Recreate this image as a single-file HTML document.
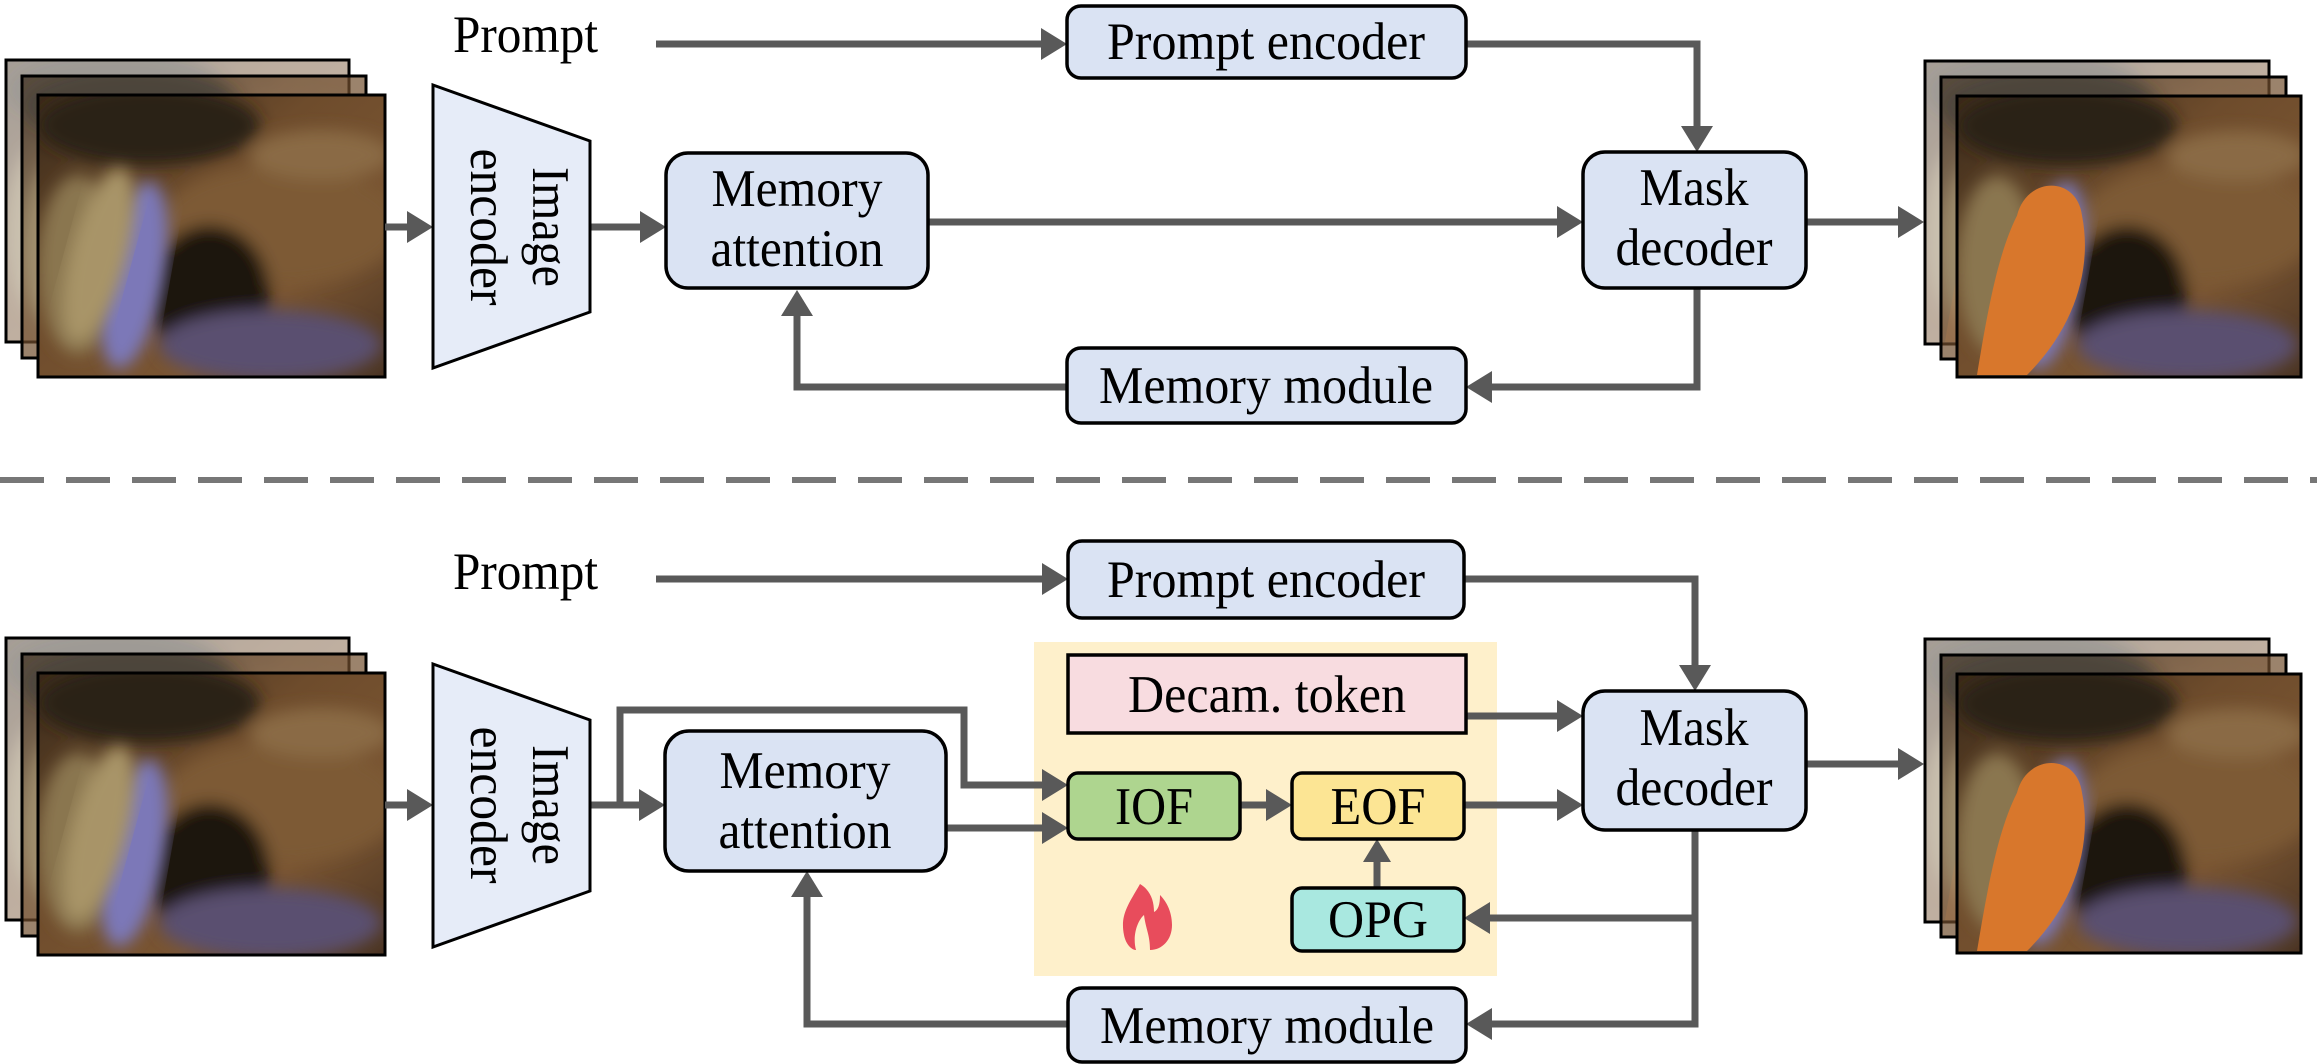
<!DOCTYPE html>
<html><head><meta charset="utf-8"><style>
html,body{margin:0;padding:0;background:#fff;}
svg{display:block;}
text{font-family:"Liberation Serif",serif;font-size:53px;fill:#000;stroke:none;}
</style></head><body>
<svg width="2317" height="1064" viewBox="0 0 2317 1064" xmlns="http://www.w3.org/2000/svg">
<defs>
<linearGradient id="bg" x1="0" y1="0" x2="1" y2="1">
<stop offset="0" stop-color="#3a2a1a"/><stop offset="0.4" stop-color="#6e4c2c"/><stop offset="0.7" stop-color="#7a5532"/><stop offset="1" stop-color="#4a3422"/>
</linearGradient>
<filter id="blur"><feGaussianBlur stdDeviation="8"/></filter>
<symbol id="scene" viewBox="0 0 344 282" preserveAspectRatio="none">
<rect width="344" height="282" fill="url(#bg)" stroke="none"/>
<g stroke="none" filter="url(#blur)">
<ellipse cx="110" cy="30" rx="110" ry="40" fill="#2a2016"/>
<ellipse cx="240" cy="130" rx="120" ry="60" fill="#7d5a36"/>
<ellipse cx="170" cy="200" rx="60" ry="70" fill="#1c1510"/>
<ellipse cx="230" cy="250" rx="110" ry="35" fill="#5a5070"/>
<ellipse cx="40" cy="170" rx="40" ry="90" fill="#8a7650"/>
<ellipse cx="280" cy="60" rx="70" ry="25" fill="#8a6a44"/>
</g>
</symbol>
<symbol id="inp" viewBox="0 0 344 282" preserveAspectRatio="none">
<use href="#scene" width="344" height="282"/>
<g stroke="none">
<ellipse cx="95" cy="180" rx="30" ry="95" fill="#7c78b8" transform="rotate(10 95 180)" filter="url(#blur)"/>
<ellipse cx="60" cy="160" rx="28" ry="90" fill="#a89468" transform="rotate(15 60 160)" filter="url(#blur)"/>
</g>
</symbol>
<symbol id="outp" viewBox="0 0 344 282" preserveAspectRatio="none">
<use href="#scene" width="344" height="282"/>
<g stroke="none">
<ellipse cx="95" cy="180" rx="30" ry="95" fill="#7c78b8" transform="rotate(10 95 180)" filter="url(#blur)"/>
<path d="M60 120 C70 80 120 80 125 120 C135 170 120 230 70 280 L20 280 C30 220 40 160 60 120Z" fill="#d8772c"/>
</g>
</symbol>
</defs>

<g stroke="#000" stroke-width="3">
<svg x="6" y="60" width="343" height="282" opacity="0.45" preserveAspectRatio="none" viewBox="0 0 344 282"><use href="#inp" width="344" height="282"/></svg>
<rect x="6" y="60" width="343" height="282" fill="none"/>
<svg x="22" y="76" width="344" height="282" opacity="0.7" preserveAspectRatio="none" viewBox="0 0 344 282"><use href="#inp" width="344" height="282"/></svg>
<rect x="22" y="76" width="344" height="282" fill="none"/>
<svg x="38" y="95" width="347" height="282" preserveAspectRatio="none" viewBox="0 0 344 282"><use href="#inp" width="344" height="282"/></svg>
<rect x="38" y="95" width="347" height="282" fill="none"/>
</g>
<g stroke="#000" stroke-width="3">
<svg x="6" y="638" width="343" height="282" opacity="0.45" preserveAspectRatio="none" viewBox="0 0 344 282"><use href="#inp" width="344" height="282"/></svg>
<rect x="6" y="638" width="343" height="282" fill="none"/>
<svg x="22" y="654" width="344" height="282" opacity="0.7" preserveAspectRatio="none" viewBox="0 0 344 282"><use href="#inp" width="344" height="282"/></svg>
<rect x="22" y="654" width="344" height="282" fill="none"/>
<svg x="38" y="673" width="347" height="282" preserveAspectRatio="none" viewBox="0 0 344 282"><use href="#inp" width="344" height="282"/></svg>
<rect x="38" y="673" width="347" height="282" fill="none"/>
</g>
<g stroke="#000" stroke-width="3">
<svg x="1925" y="61" width="344" height="283" opacity="0.45" preserveAspectRatio="none" viewBox="0 0 344 282"><use href="#outp" width="344" height="282"/></svg>
<rect x="1925" y="61" width="344" height="283" fill="none"/>
<svg x="1941" y="77" width="345" height="282" opacity="0.7" preserveAspectRatio="none" viewBox="0 0 344 282"><use href="#outp" width="344" height="282"/></svg>
<rect x="1941" y="77" width="345" height="282" fill="none"/>
<svg x="1957" y="96" width="344" height="281" preserveAspectRatio="none" viewBox="0 0 344 282"><use href="#outp" width="344" height="282"/></svg>
<rect x="1957" y="96" width="344" height="281" fill="none"/>
</g>
<g stroke="#000" stroke-width="3">
<svg x="1925" y="639" width="344" height="283" opacity="0.45" preserveAspectRatio="none" viewBox="0 0 344 282"><use href="#outp" width="344" height="282"/></svg>
<rect x="1925" y="639" width="344" height="283" fill="none"/>
<svg x="1941" y="655" width="345" height="282" opacity="0.7" preserveAspectRatio="none" viewBox="0 0 344 282"><use href="#outp" width="344" height="282"/></svg>
<rect x="1941" y="655" width="345" height="282" fill="none"/>
<svg x="1957" y="674" width="344" height="279" preserveAspectRatio="none" viewBox="0 0 344 282"><use href="#outp" width="344" height="282"/></svg>
<rect x="1957" y="674" width="344" height="279" fill="none"/>
</g>

<line x1="0" y1="480" x2="2317" y2="480" stroke="#777" stroke-width="6" stroke-dasharray="44 22"/>

<rect x="1034" y="642" width="463" height="334" fill="#FEF0CB"/>

<g stroke="#595959" stroke-width="7" fill="none">
<path d="M656 44 H1041"/>
<path d="M385 227 H407"/>
<path d="M590 227 H640"/>
<path d="M928 222 H1557"/>
<path d="M1466 44 H1697 V126"/>
<path d="M1697 288 V387 H1492"/>
<path d="M1067 387 H797 V316"/>
<path d="M1806 222 H1898"/>

<path d="M656 579 H1042"/>
<path d="M385 805 H407"/>
<path d="M590 805 H639"/>
<path d="M620 805 V710 H964 V785 H1042"/>
<path d="M946 828 H1042"/>
<path d="M1240 805 H1266"/>
<path d="M1464 805 H1557"/>
<path d="M1466 716 H1557"/>
<path d="M1464 579 H1695 V665"/>
<path d="M1695 830 V1024 H1492"/>
<path d="M1695 918 H1490"/>
<path d="M1068 1024 H807 V897"/>
<path d="M1377 888 V862"/>
<path d="M1806 764 H1898"/>
</g>
<g fill="#595959">
<polygon points="1041,28 1067,44 1041,60"/>
<polygon points="407,211 433,227 407,243"/>
<polygon points="640,211 666,227 640,243"/>
<polygon points="1557,206 1583,222 1557,238"/>
<polygon points="1681,126 1697,152 1713,126"/>
<polygon points="1492,371 1466,387 1492,403"/>
<polygon points="781,316 797,290 813,316"/>
<polygon points="1898,206 1924,222 1898,238"/>

<polygon points="1042,563 1068,579 1042,595"/>
<polygon points="407,789 433,805 407,821"/>
<polygon points="639,789 665,805 639,821"/>
<polygon points="1042,769 1068,785 1042,801"/>
<polygon points="1042,812 1068,828 1042,844"/>
<polygon points="1266,789 1292,805 1266,821"/>
<polygon points="1557,789 1583,805 1557,821"/>
<polygon points="1557,700 1583,716 1557,732"/>
<polygon points="1679,665 1695,691 1711,665"/>
<polygon points="1492,1008 1466,1024 1492,1040"/>
<polygon points="1490,902 1464,918 1490,934"/>
<polygon points="791,897 807,871 823,897"/>
<polygon points="1363,862 1377,839 1391,862"/>
<polygon points="1898,748 1924,764 1898,780"/>
</g>

<polygon points="433,85 590,141 590,312 433,368" fill="#E6ECF8" stroke="#000" stroke-width="3"/>
<polygon points="433,664 590,720 590,891 433,947" fill="#E6ECF8" stroke="#000" stroke-width="3"/>
<g transform="translate(511,227) rotate(90)"><text x="0" y="-22" text-anchor="middle" textLength="120" lengthAdjust="spacingAndGlyphs">Image</text><text x="0" y="40" text-anchor="middle" textLength="157" lengthAdjust="spacingAndGlyphs">encoder</text></g>
<g transform="translate(511,805) rotate(90)"><text x="0" y="-22" text-anchor="middle" textLength="120" lengthAdjust="spacingAndGlyphs">Image</text><text x="0" y="40" text-anchor="middle" textLength="157" lengthAdjust="spacingAndGlyphs">encoder</text></g>

<g stroke="#000" stroke-width="3.5" fill="#DAE3F3">
<rect x="1067" y="6" width="399" height="72" rx="14"/>
<rect x="666" y="153" width="262" height="135" rx="22"/>
<rect x="1583" y="152" width="223" height="136" rx="22"/>
<rect x="1067" y="348" width="399" height="75" rx="14"/>

<rect x="1068" y="541" width="396" height="77" rx="14"/>
<rect x="665" y="731" width="281" height="140" rx="24"/>
<rect x="1583" y="691" width="223" height="139" rx="22"/>
<rect x="1068" y="988" width="398" height="74" rx="14"/>
<rect x="1068" y="655" width="398" height="78" rx="0" fill="#F8DCE0"/>
<rect x="1068" y="773" width="172" height="66" rx="10" fill="#AED58F"/>
<rect x="1292" y="773" width="172" height="66" rx="10" fill="#FCE594"/>
<rect x="1292" y="888" width="172" height="63" rx="10" fill="#A9E8E0"/>
</g>

<path d="M1140 884 C1128 905 1120 915 1124 935 C1126 945 1132 950 1136 950 C1132 935 1138 920 1144 915 C1146 930 1150 935 1150 950 C1162 950 1172 940 1172 925 C1172 910 1165 900 1160 895 C1160 905 1158 910 1154 912 C1154 900 1150 890 1140 884 Z" fill="#E84C5C"/>

<text x="453" y="52" textLength="145" lengthAdjust="spacingAndGlyphs">Prompt</text>
<text x="453" y="589" textLength="145" lengthAdjust="spacingAndGlyphs">Prompt</text>
<g text-anchor="middle">
<text x="1266" y="59" textLength="318" lengthAdjust="spacingAndGlyphs">Prompt encoder</text>
<text x="797" y="206" textLength="171" lengthAdjust="spacingAndGlyphs">Memory</text><text x="797" y="266" textLength="173" lengthAdjust="spacingAndGlyphs">attention</text>
<text x="1694" y="205" textLength="109" lengthAdjust="spacingAndGlyphs">Mask</text><text x="1694" y="265" textLength="157" lengthAdjust="spacingAndGlyphs">decoder</text>
<text x="1266" y="403" textLength="334" lengthAdjust="spacingAndGlyphs">Memory module</text>

<text x="1266" y="597" textLength="318" lengthAdjust="spacingAndGlyphs">Prompt encoder</text>
<text x="1267" y="712" textLength="278" lengthAdjust="spacingAndGlyphs">Decam. token</text>
<text x="805" y="788" textLength="171" lengthAdjust="spacingAndGlyphs">Memory</text><text x="805" y="848" textLength="173" lengthAdjust="spacingAndGlyphs">attention</text>
<text x="1154" y="824" textLength="78" lengthAdjust="spacingAndGlyphs">IOF</text>
<text x="1378" y="824" textLength="95" lengthAdjust="spacingAndGlyphs">EOF</text>
<text x="1378" y="937" textLength="100" lengthAdjust="spacingAndGlyphs">OPG</text>
<text x="1694" y="745" textLength="109" lengthAdjust="spacingAndGlyphs">Mask</text><text x="1694" y="805" textLength="157" lengthAdjust="spacingAndGlyphs">decoder</text>
<text x="1267" y="1043" textLength="334" lengthAdjust="spacingAndGlyphs">Memory module</text>
</g>
</svg>
</body></html>
